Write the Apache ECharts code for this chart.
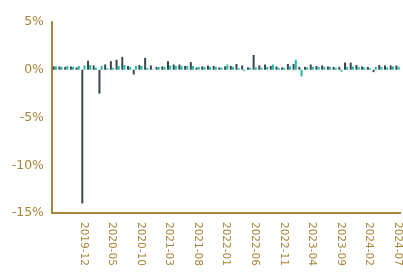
<!DOCTYPE html>
<html>
<head>
<meta charset="utf-8">
<script src="https://cdn.jsdelivr.net/npm/echarts@6/dist/echarts.min.js"></script>
<style>
  html, body { margin: 0; padding: 0; background: #fff; }
  #chart { width: 403px; height: 273px; }
</style>
</head>
<body>
<div id="chart"></div>
<script>
// monthly categories 2019-07 .. 2024-07
var months = []
for (var y = 2019; y <= 2024; y++) {
  for (var m = 1; m <= 12; m++) {
    if (y === 2019 && m < 7) continue
    if (y === 2024 && m > 7) break
    months.push(y + '-' + (m < 10 ? '0' + m : m))
  }
}

var darkValues = [
  0.35, 0.35, 0.3, 0.35, 0.25, -14.0, 0.95, 0.45, -2.5, 0.55,
  0.9, 1.05, 1.35, 0.4, -0.5, 0.5, 1.25, 0.45, 0.3, 0.35,
  0.9, 0.55, 0.55, 0.4, 0.8, 0.25, 0.35, 0.45, 0.4, 0.25,
  0.35, 0.4, 0.6, 0.45, 0.25, 1.55, 0.45, 0.55, 0.4, 0.35,
  0.25, 0.6, 0.6, 0.3, 0.3, 0.55, 0.4, 0.45, 0.35, 0.3,
  0.3, 0.75, 0.75, 0.5, 0.35, 0.3, -0.25, 0.5, 0.45, 0.45,
  0.45
]
var tealValues = [
  0.35, 0.3, 0.4, 0.3, 0.4, 0.45, 0.5, 0.2, 0.4, 0.15,
  0.2, 0.4, 0.5, 0.3, 0.4, 0.4, 0.2, 0.05, 0.3, 0.3,
  0.45, 0.4, 0.4, 0.4, 0.4, 0.3, 0.3, 0.3, 0.3, 0.2,
  0.55, 0.3, 0.15, -0.15, 0.2, 0.25, 0.2, 0.3, 0.55, 0.2,
  0.2, 0.35, 1.05, -0.7, 0.25, 0.3, 0.3, 0.3, 0.3, 0.2,
  -0.2, 0.3, 0.35, 0.3, 0.25, 0.15, 0.3, 0.3, 0.25, 0.35,
  0.3
]

var gold = '#a8853a'
var gridTop = 22
var gridBottom = 60
var chart = echarts.init(document.getElementById('chart'))
var option = {
  animation: false,
  grid: { left: 52, right: 2, top: gridTop, bottom: gridBottom },
  xAxis: {
    type: 'category',
    data: months,
    axisLine: { onZero: false, lineStyle: { color: gold, width: 2 } },
    axisTick: { show: false },
    axisLabel: {
      rotate: -90,
      color: gold,
      fontSize: 10.5,
      fontFamily: 'DejaVu Sans',
      margin: 9,
      interval: function(index) {
        return index > 0 && index % 5 === 0
      }
    }
  },
  yAxis: {
    type: 'value',
    min: -15,
    max: 5,
    interval: 5,
    axisLine: { show: true, lineStyle: { color: gold, width: 2 } },
    axisTick: { show: false },
    splitLine: { show: false },
    axisLabel: {
      color: gold,
      fontSize: 12.5,
      fontFamily: 'DejaVu Sans',
      margin: 8,
      formatter: '{value}%'
    }
  },
  series: [
    {
      type: 'bar',
      data: darkValues,
      itemStyle: { color: '#37474b' }
    },
    {
      type: 'bar',
      data: tealValues,
      itemStyle: { color: '#1dbfa4' }
    }
  ]
}
chart.setOption(option)

// the grid gets squeezed by the rotated labels; nudge it until the
// axis really spans y=22 (5%) .. y=213 (-15%)
for (var k = 0; k < 6; k++) {
  var yTop = chart.convertToPixel({ yAxisIndex: 0 }, 5)
  var yBot = chart.convertToPixel({ yAxisIndex: 0 }, -15)
  var errTop = 22 - yTop
  var errBot = 213 - yBot
  if (Math.abs(errTop) < 0.5 && Math.abs(errBot) < 0.5) break
  gridTop += errTop
  gridBottom -= errBot
  chart.setOption({ grid: { top: gridTop, bottom: gridBottom } })
}
</script>
</body>
</html>
